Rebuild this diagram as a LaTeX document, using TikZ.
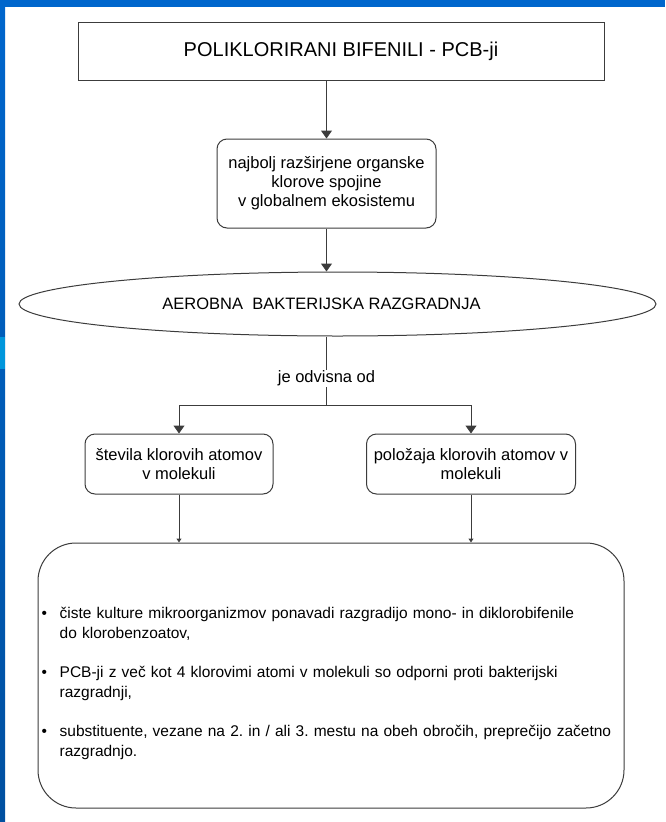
\documentclass[tikz,border=0pt]{standalone}
\usepackage{fontspec}
\setmainfont{Liberation Sans}
\newfontfamily\listfont{Liberation Sans}[WordSpace=0.7]
\usetikzlibrary{positioning,shapes.geometric,arrows.meta}
\definecolor{slideblue}{RGB}{0,102,204}
\definecolor{slidedark}{RGB}{0,80,160}
\definecolor{slidelight}{RGB}{0,150,220}
\definecolor{linegray}{RGB}{60,60,60}

\begin{document}
\begin{tikzpicture}[x=1pt,y=-1pt,node distance=60pt,on grid,
    every node/.style={font=\fontsize{16.5}{19}\selectfont},
    >={Triangle[width=11pt,length=8pt]}]
    \tikzset{titlebox/.style={draw=linegray,line width=1pt,rectangle,minimum width=526pt,minimum height=58pt,inner sep=0pt},
      rounded/.style={draw=linegray,line width=1pt,rectangle,rounded corners=10pt,align=center,inner sep=0pt},
      oval/.style={draw=linegray,line width=1pt,ellipse,minimum width=637pt,minimum height=64pt,inner sep=0pt},
      link/.style={draw=linegray,line width=1pt},
      small/.style={-{Triangle[width=5pt,length=4pt]}}}
    % slide frame
    \useasboundingbox (0,0) rectangle (665,822);
    \fill[white] (0,0) rectangle (665,822);
    \fill[slideblue] (0,0) rectangle (665,7);
    \shade[top color=slideblue,bottom color=slidedark] (0,7) rectangle (5,822);
    \fill[slidelight] (0,337) rectangle (5,369);
    % chart
    \node[titlebox,font=\fontsize{20}{24}\selectfont] (pcb) at (341,51) {POLIKLORIRANI BIFENILI - PCB-ji};
    \node[rounded,minimum width=219pt,minimum height=89pt] (spread) [below left = 132.5pt and 14.5pt of pcb] {najbolj razširjene organske\\klorove spojine\\v globalnem ekosistemu};
    \node[oval] (aerob) [below right = 120.5pt and 11pt of spread] {AEROBNA\ \ BAKTERIJSKA RAZGRADNJA\hspace*{32pt}};
    \coordinate[below = 221.5pt of spread] (split);
    \node[rounded,minimum width=188pt,minimum height=60pt] (count) [below left = 280.5pt and 147.5pt of spread] {števila klorovih atomov\\v molekuli};
    \node[rounded,minimum width=209pt,minimum height=60pt] (place) [right = 292pt of count] {položaja klorovih atomov v\\molekuli};
    \node[rounded,rounded corners=38pt,minimum width=586pt,minimum height=265pt] (facts) [below right = 211.5pt and 152pt of count] {};
    \node[anchor=base west,text width=620pt,align=left,inner sep=0pt,font=\listfont\fontsize{15.5}{20}\selectfont\frenchspacing] (list) at ([xshift=4pt,yshift=-76pt]facts.north west) {%
      \makebox[18pt][l]{\textbullet}čiste kulture mikroorganizmov ponavadi razgradijo mono- in diklorobifenile\\
      \hspace*{18pt}do klorobenzoatov,\\[19pt]
      \makebox[18pt][l]{\textbullet}PCB-ji z več kot 4 klorovimi atomi v molekuli so odporni proti bakterijski\\
      \hspace*{18pt}razgradnji,\\[19pt]
      \makebox[18pt][l]{\textbullet}substituente, vezane na 2. in / ali 3. mestu na obeh obročih, preprečijo začetno\\
      \hspace*{18pt}razgradnjo.};
    \path[->]
    (pcb.south -| spread) edge[link] (spread)
    (spread) edge[link] (spread |- aerob.north)
    (count) edge[link,small] (count |- facts.north)
    (place) edge[link,small] (place |- facts.north)
    ;
    \draw[link] (aerob.south -| split) -- node[pos=0.61,fill=white,inner sep=1pt] {je odvisna od} (split);
    \draw[link,->] (split) -| (count);
    \draw[link,->] (split) -| (place);
  \end{tikzpicture}
\end{document}
